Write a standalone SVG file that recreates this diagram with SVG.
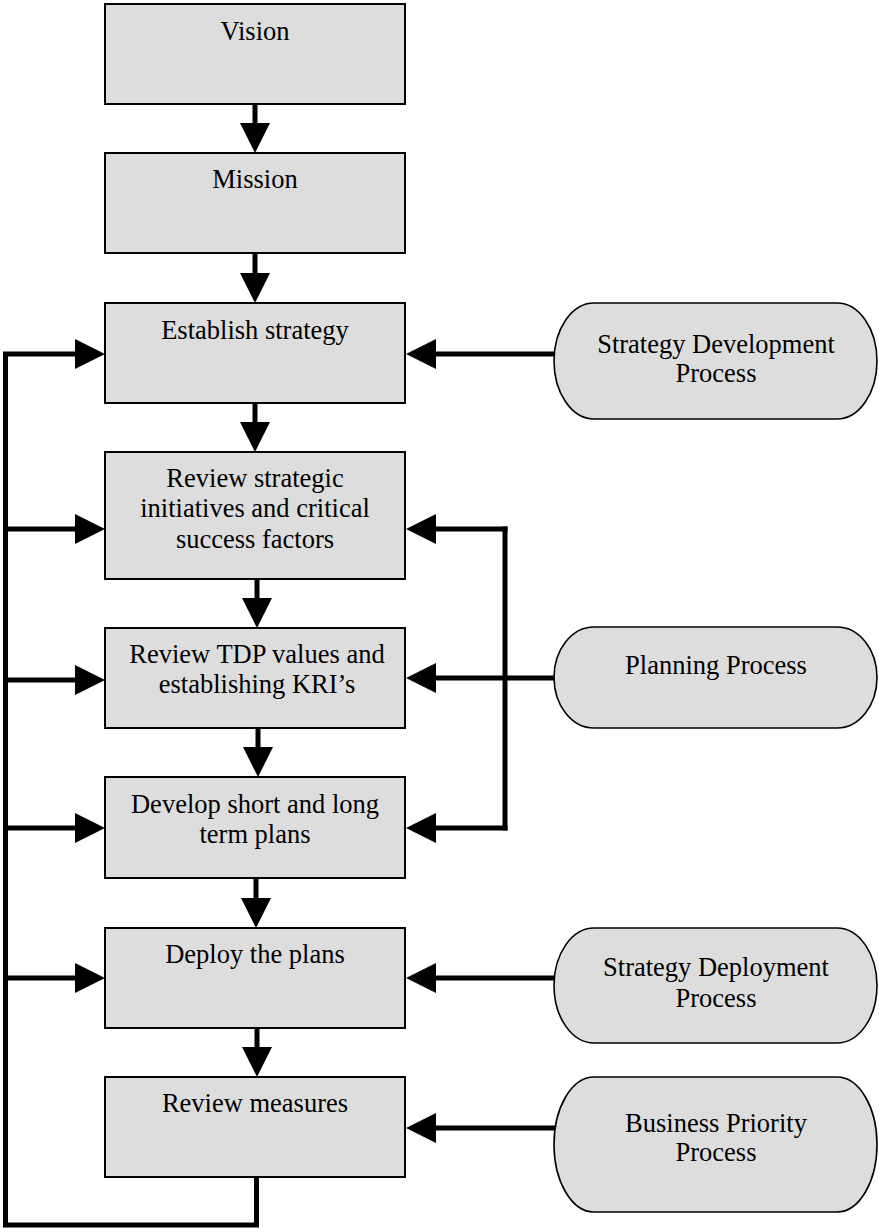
<svg xmlns="http://www.w3.org/2000/svg" width="879" height="1228" viewBox="0 0 879 1228">
<defs>
<marker id="ah" markerUnits="userSpaceOnUse" markerWidth="30" markerHeight="30" viewBox="0 0 30 30" refX="0" refY="15" orient="auto" overflow="visible">
<path d="M0,0 L30,15 L0,30 Z" fill="#000"/>
</marker>
</defs>
<style>
.box{fill:#dddddd;stroke:#000;stroke-width:2}
.pill{fill:#dddddd;stroke:#000;stroke-width:1.6}
.t{font-family:"Liberation Serif","Times New Roman",serif;font-size:26.5px;fill:#000;text-anchor:middle}
.c{fill:none;stroke:#000;stroke-width:5}
.a{fill:none;stroke:#000;stroke-width:5;marker-end:url(#ah)}
</style>
<rect width="879" height="1228" fill="#fff"/>
<g id="connectors">
<path class="a" d="M255,104 V123"/>
<path class="a" d="M255,253 V273"/>
<path class="a" d="M255,403 V422"/>
<path class="a" d="M257,579 V598"/>
<path class="a" d="M258,728 V747"/>
<path class="a" d="M256,878 V898"/>
<path class="a" d="M257,1028 V1047"/>
<path class="c" d="M256.5,1177 V1225 H5.5 V354"/>
<path class="a" d="M3,354 H75"/>
<path class="a" d="M5.5,529 H75"/>
<path class="a" d="M5.5,680 H75"/>
<path class="a" d="M5.5,828 H75"/>
<path class="a" d="M5.5,978 H75"/>
<path class="a" d="M555,354 H436"/>
<path class="a" d="M555,678 H436"/>
<path class="c" d="M505,526.5 V830.5"/>
<path class="a" d="M507.5,529 H436"/>
<path class="a" d="M507.5,828 H436"/>
<path class="a" d="M555,978 H436"/>
<path class="a" d="M555,1128 H436"/>
</g>
<g id="vision"><rect class="box" x="105" y="4" width="300" height="100"/><text class="t" x="255" y="40">Vision</text></g>
<g id="mission"><rect class="box" x="105" y="153" width="300" height="100"/><text class="t" x="255" y="188">Mission</text></g>
<g id="establish"><rect class="box" x="105" y="303" width="300" height="100"/><text class="t" x="255" y="339">Establish strategy</text></g>
<g id="review-strategic"><rect class="box" x="105" y="452" width="300" height="127"/><text class="t" x="255" y="487">Review strategic</text><text class="t" x="255" y="517">initiatives and critical</text><text class="t" x="255" y="548">success factors</text></g>
<g id="review-tdp"><rect class="box" x="105" y="628" width="300" height="100"/><text class="t" x="257" y="663">Review TDP values and</text><text class="t" x="257" y="693">establishing KRI’s</text></g>
<g id="develop"><rect class="box" x="105" y="777" width="300" height="101"/><text class="t" x="255" y="813">Develop short and long</text><text class="t" x="255" y="843">term plans</text></g>
<g id="deploy"><rect class="box" x="105" y="928" width="300" height="100"/><text class="t" x="255" y="963">Deploy the plans</text></g>
<g id="review-measures"><rect class="box" x="105" y="1077" width="300" height="100"/><text class="t" x="255" y="1112">Review measures</text></g>
<g id="strategy-development"><rect class="pill" x="554" y="303" width="323" height="116" rx="40" ry="58"/><text class="t" x="716" y="353">Strategy Development</text><text class="t" x="716" y="382">Process</text></g>
<g id="planning"><rect class="pill" x="554" y="627" width="323" height="101" rx="40" ry="50.5"/><text class="t" x="716" y="674">Planning Process</text></g>
<g id="strategy-deployment"><rect class="pill" x="554" y="928" width="323" height="115" rx="40" ry="57.5"/><text class="t" x="716" y="976">Strategy Deployment</text><text class="t" x="716" y="1007">Process</text></g>
<g id="business-priority"><rect class="pill" x="554" y="1077" width="323" height="135" rx="40" ry="67.5"/><text class="t" x="716" y="1132">Business Priority</text><text class="t" x="716" y="1161">Process</text></g>
</svg>
